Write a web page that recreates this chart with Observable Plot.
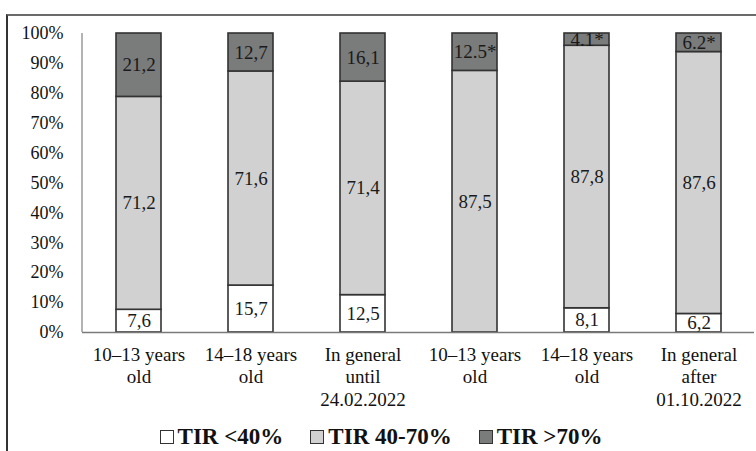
<!DOCTYPE html>
<html>
<head>
<meta charset="utf-8">
<script src="https://cdn.jsdelivr.net/npm/d3@7"></script>
<script src="https://cdn.jsdelivr.net/npm/@observablehq/plot@0.6"></script>
<style>
  html, body { margin: 0; padding: 0; background: #fff; }
  #wrap { position: relative; width: 756px; height: 451px; overflow: hidden; font-family: "Liberation Serif", "Times New Roman", serif; }
  #frame { position: absolute; left: 6px; top: 14px; width: 800px; height: 500px; border-top: 2px solid #6a6a6a; border-left: 2px solid #333; box-sizing: border-box; }
  #chart { position: absolute; left: 0; top: 0; }
  #legend { position: absolute; left: 0; top: 423px; width: 756px; height: 28px; display: flex; justify-content: center; align-items: center; gap: 27px; font-weight: bold; font-size: 23px; color: #111; padding-left: 6px; box-sizing: border-box; }
  .item { display: flex; align-items: center; gap: 4px; }
  .sw { width: 14px; height: 14px; border: 1.5px solid #333; box-sizing: border-box; }
</style>
</head>
<body>
<div id="wrap">
  <div id="frame"></div>
  <div id="chart"></div>
  <div id="legend"></div>
</div>
<script>
// Categories (x-axis labels, multi-line)
const categoryLabels = [
  "10–13 years\nold",
  "14–18 years\nold",
  "In general\nuntil\n24.02.2022",
  "10–13 years\nold",
  "14–18 years\nold",
  "In general\nafter\n01.10.2022"
];
// Series
const seriesNames = ["TIR <40%", "TIR 40-70%", "TIR >70%"];
const seriesColors = ["#ffffff", "#d0d1d0", "#7a7b7b"];
const lowValues  = [7.6, 15.7, 12.5, 0, 8.1, 6.2];
const midValues  = [71.2, 71.6, 71.4, 87.5, 87.8, 87.6];
const highValues = [21.2, 12.7, 16.1, 12.5, 4.1, 6.2];
const lowLabels  = ["7,6", "15,7", "12,5", "", "8,1", "6,2"];
const midLabels  = ["71,2", "71,6", "71,4", "87,5", "87,8", "87,6"];
const highLabels = ["21,2", "12,7", "16,1", "12.5*", "4.1*", "6.2*"];
const yTicks = [0, 10, 20, 30, 40, 50, 60, 70, 80, 90, 100];

const seriesValues = [lowValues, midValues, highValues];
const seriesLabels = [lowLabels, midLabels, highLabels];
const rows = [];
categoryLabels.forEach((c, i) => {
  seriesNames.forEach((s, k) => {
    rows.push({cat: i, series: s, value: seriesValues[k][i], label: seriesLabels[k][i]});
  });
});

const FONT = "'Liberation Serif', 'Times New Roman', serif";

// vertical y-axis line at the left edge of the plot area
const yAxisLine = (index, scales, values, dims) => {
  const ns = "http://www.w3.org/2000/svg";
  const l = document.createElementNS(ns, "line");
  l.setAttribute("x1", dims.marginLeft); l.setAttribute("x2", dims.marginLeft);
  l.setAttribute("y1", scales.y(100)); l.setAttribute("y2", scales.y(0));
  l.setAttribute("stroke", "#8a8a8a"); l.setAttribute("stroke-width", 1.3);
  return l;
};

const chart = Plot.plot({
  width: 756,
  height: 423,
  marginLeft: 82,
  marginRight: 2,
  marginTop: 33,
  marginBottom: 91,
  style: {fontFamily: FONT, color: "#111", background: "transparent"},
  x: {domain: d3.range(categoryLabels.length), paddingInner: 0.6, paddingOuter: 0.3, label: null},
  y: {domain: [0, 100], label: null},
  color: {domain: seriesNames, range: seriesColors},
  marks: [
    Plot.axisY({ticks: yTicks, tickFormat: d => d + "%", tickSize: 0, tickPadding: 19, fontSize: 18, label: null}),
    Plot.axisX({tickFormat: i => categoryLabels[i], tickSize: 0, tickPadding: 12, fontSize: 19, lineHeight: 1.2, lineAnchor: "top", label: null}),
    Plot.barY(rows.filter(d => d.value > 0), {x: "cat", y: "value", z: "series", fill: "series", stroke: "#333", strokeWidth: 1.6, order: seriesNames}),
    yAxisLine,
    Plot.ruleY([0], {stroke: "#7a7a7a", strokeWidth: 1.3}),
    Plot.text(rows, Plot.stackY({x: "cat", y: "value", z: "series", text: "label", order: seriesNames, fontSize: 19, fill: "#1a1a1a"}))
  ]
});
document.getElementById("chart").appendChild(chart);

const legend = document.getElementById("legend");
seriesNames.forEach((s, k) => {
  const it = document.createElement("div");
  it.className = "item";
  const sw = document.createElement("div");
  sw.className = "sw";
  sw.style.background = seriesColors[k];
  const t = document.createElement("span");
  t.textContent = s;
  it.appendChild(sw); it.appendChild(t);
  legend.appendChild(it);
});
</script>
</body>
</html>
